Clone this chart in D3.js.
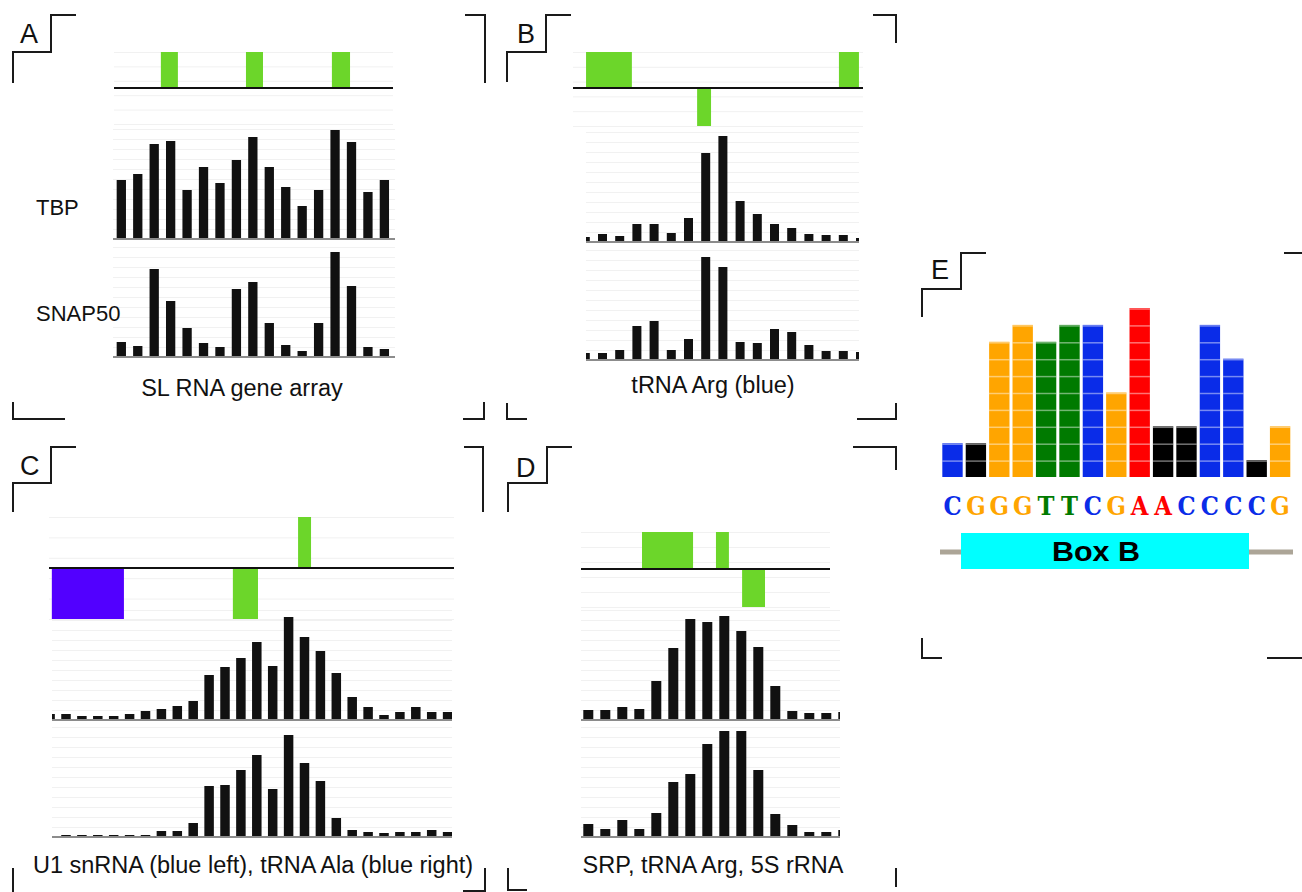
<!DOCTYPE html>
<html lang="en">
<head>
  <meta charset="UTF-8">
  <title>ChIP profiles</title>
  <style>
    html, body { margin: 0; padding: 0; background: #fff; }
    svg { display: block; font-family: "Liberation Sans", Arial, sans-serif; }
    .bracket { fill: none; stroke: #1a1a1a; stroke-width: 2; }
    .panelLabel { font-size: 27px; fill: #111; }
    .caption { font-size: 23.5px; fill: #111; text-anchor: middle; }
    .trackLabel { font-size: 22px; fill: #111; }
    .grid line { stroke: #f1f1f1; stroke-width: 1; }
    .grid path, .grid text { display: none; }
    .baseline { stroke: #8c8c8c; stroke-width: 2; }
    .geneLine { stroke: #111; stroke-width: 2; }
  </style>
  <script src="https://cdn.jsdelivr.net/npm/d3@7"></script>
</head>
<body>
<script>
  // ---------- data (bar heights, same units per track) ----------
  const tbpA = [59, 65, 95, 98, 49, 72, 56, 79, 102, 72, 52, 33, 49, 109, 97, 47, 59];
  const snap50A = [15, 11, 88, 56, 29, 14, 10, 68, 75, 34, 12, 6, 34, 105, 71, 10, 8];
  const tbpB = [5, 8, 6, 18, 18, 9, 24, 89, 106, 41, 28, 18, 14, 8, 7, 7, 4];
  const snap50B = [7, 7, 10, 34, 39, 10, 21, 103, 93, 18, 17, 31, 28, 15, 9, 9, 8];
  const tbpC = [6, 6, 4, 4, 4, 6, 9, 11, 14, 19, 45, 53, 62, 78, 54, 103, 83, 69, 47, 23, 13, 5, 8, 13, 8, 8];
  const snap50C = [1, 2, 2, 2, 2, 2, 2, 6, 6, 14, 51, 52, 67, 82, 48, 102, 74, 56, 19, 7, 5, 4, 5, 5, 7, 5];
  const tbpD = [10, 10, 13, 11, 39, 72, 101, 98, 104, 89, 73, 34, 9, 7, 7, 8];
  const snap50D = [13, 8, 17, 8, 24, 55, 63, 93, 106, 106, 67, 23, 12, 5, 5, 7];

  // gene features: start / end in relative position (0-100 along the locus), strand +1 / -1
  const genesA = [
    { start: 16.8, end: 22.9, strand: 1, type: 'gene' },
    { start: 47.3, end: 53.4, strand: 1, type: 'gene' },
    { start: 78.1, end: 84.6, strand: 1, type: 'gene' }
  ];
  const genesB = [
    { start: 4.5, end: 20.3, strand: 1, type: 'gene' },
    { start: 91.7, end: 98.6, strand: 1, type: 'gene' },
    { start: 42.8, end: 47.6, strand: -1, type: 'gene' }
  ];
  const genesC = [
    { start: 0.7, end: 18.5, strand: -1, type: 'U1' },
    { start: 45.4, end: 51.6, strand: -1, type: 'gene' },
    { start: 61.5, end: 64.7, strand: 1, type: 'gene' }
  ];
  const genesD = [
    { start: 24.5, end: 45.0, strand: 1, type: 'gene' },
    { start: 54.2, end: 59.4, strand: 1, type: 'gene' },
    { start: 64.7, end: 73.9, strand: -1, type: 'gene' }
  ];

  // sequence logo of box B
  const logoLetters = ['C', 'G', 'G', 'G', 'T', 'T', 'C', 'G', 'A', 'A', 'C', 'C', 'C', 'C', 'G'];
  const logoColumnBase = ['C', 'N', 'G', 'G', 'T', 'T', 'C', 'G', 'A', 'N', 'N', 'C', 'C', 'N', 'G'];
  const logoHeights = [2, 2, 8, 9, 8, 9, 9, 5, 10, 3, 3, 9, 7, 1, 3];

  const trackNames = ['TBP', 'SNAP50'];

  // ---------- layout ----------
  const width = 1302;
  const height = 892;
  const trackMax = 110;

  const baseColour = d3.scaleOrdinal()
    .domain(['C', 'G', 'T', 'A', 'N'])
    .range(['#0a2ce8', '#ffa500', '#007a00', '#ff0000', '#000000']);
  const featureColour = d3.scaleOrdinal()
    .domain(['gene', 'U1'])
    .range(['#6cd62a', '#5200ff']);

  const panels = [
    {
      id: 'A', label: [20, 43], caption: 'SL RNA gene array', capPos: [242, 396],
      gene: { x0: 114, x1: 393, y: 88, up: 36, down: 36, data: genesA },
      bars: { range: [113.1, 392.6], clip: [113, 395], bw: 9.3 },
      tracks: [{ base: 239, data: tbpA }, { base: 357, data: snap50A }],
      names: true,
      brackets: ['M13,83V52H51V15H76', 'M465,15H485V83', 'M13,402V419H65', 'M463,419H484V402']
    },
    {
      id: 'B', label: [517, 43], caption: 'tRNA Arg (blue)', capPos: [713, 393],
      gene: { x0: 573, x1: 863, y: 88, up: 36, down: 38, data: genesB },
      bars: { range: [576.7, 869.1], clip: [586, 859], bw: 9 },
      tracks: [{ base: 242, data: tbpB }, { base: 360, data: snap50B }],
      brackets: ['M507,82V52H546V15H571', 'M873,15H896V43', 'M507,403V419H527', 'M857,419H896V403']
    },
    {
      id: 'C', label: [20, 475], caption: 'U1 snRNA (blue left), tRNA Ala (blue right)', capPos: [253, 873],
      gene: { x0: 49, x1: 454, y: 568, up: 51, down: 51, data: genesC },
      bars: { range: [42.15, 455.55], clip: [52, 452], bw: 9.5 },
      tracks: [{ base: 720, data: tbpC }, { base: 837, data: snap50C }],
      brackets: ['M13,512V483H51V447H76', 'M464,447H483V512', 'M13,868V892', 'M463,891H485V868']
    },
    {
      id: 'D', label: [516, 477], caption: 'SRP, tRNA Arg, 5S rRNA', capPos: [713, 873],
      gene: { x0: 581, x1: 830, y: 569, up: 37, down: 38, data: genesD },
      bars: { range: [579.8, 851.8], clip: [581, 840], bw: 10 },
      tracks: [{ base: 720, data: tbpD }, { base: 837, data: snap50D }],
      brackets: ['M508,512V483H547V447H572', 'M853,447H896V470', 'M508,868V890H527', 'M896,868V887']
    }
  ];

  const svg = d3.select('body').append('svg')
    .attr('width', width)
    .attr('height', height);
  const defs = svg.append('defs');
  const gridLayer = svg.append('g').attr('class', 'gridLayer');

  panels.forEach((p) => {
    const g = svg.append('g').attr('class', 'panel-' + p.id);

    // corner brackets
    g.selectAll('.bracket')
      .data(p.brackets)
      .enter()
      .append('path')
      .attr('class', 'bracket')
      .attr('d', (d) => d);

    g.append('text')
      .attr('class', 'panelLabel')
      .attr('x', p.label[0])
      .attr('y', p.label[1])
      .text(p.id);

    // gene track
    const gx = d3.scaleLinear().domain([0, 100]).range([p.gene.x0, p.gene.x1]);
    gridLayer.append('g')
      .attr('class', 'grid')
      .attr('transform', `translate(${p.gene.x0},0)`)
      .call(d3.axisLeft(d3.scaleLinear().domain([0, 1]).range([p.gene.y + p.gene.down, p.gene.y - p.gene.up]))
        .ticks(4).tickSize(-(p.gene.x1 - p.gene.x0)));

    g.selectAll('.feature')
      .data(p.gene.data)
      .enter()
      .append('rect')
      .attr('class', 'feature')
      .attr('x', (d) => gx(d.start))
      .attr('width', (d) => gx(d.end) - gx(d.start))
      .attr('y', (d) => d.strand > 0 ? p.gene.y - p.gene.up : p.gene.y)
      .attr('height', (d) => d.strand > 0 ? p.gene.up : p.gene.down)
      .attr('fill', (d) => featureColour(d.type));

    g.append('line')
      .attr('class', 'geneLine')
      .attr('x1', p.gene.x0)
      .attr('x2', p.gene.x1)
      .attr('y1', p.gene.y)
      .attr('y2', p.gene.y);

    // ChIP bar tracks
    const n = p.tracks[0].data.length;
    const step = (p.bars.range[1] - p.bars.range[0]) / n;
    const pad = 1 - p.bars.bw / step;
    const xScale = d3.scaleBand()
      .domain(d3.range(n))
      .range(p.bars.range)
      .paddingInner(pad)
      .paddingOuter(pad / 2);

    const clipId = 'clip' + p.id;
    defs.append('clipPath')
      .attr('id', clipId)
      .append('rect')
      .attr('x', p.bars.clip[0])
      .attr('y', 0)
      .attr('width', p.bars.clip[1] - p.bars.clip[0])
      .attr('height', height);

    p.tracks.forEach((t, ti) => {
      const yScale = d3.scaleLinear().domain([0, trackMax]).range([t.base, t.base - trackMax]);

      gridLayer.append('g')
        .attr('class', 'grid')
        .attr('transform', `translate(${p.bars.clip[0]},0)`)
        .call(d3.axisLeft(yScale).ticks(8).tickSize(-(p.bars.clip[1] - p.bars.clip[0])));

      g.append('g')
        .attr('clip-path', `url(#${clipId})`)
        .selectAll('rect')
        .data(t.data)
        .enter()
        .append('rect')
        .attr('x', (d, i) => xScale(i))
        .attr('width', xScale.bandwidth())
        .attr('y', (d) => yScale(d))
        .attr('height', (d) => yScale(0) - yScale(d))
        .attr('fill', '#111');

      g.append('line')
        .attr('class', 'baseline')
        .attr('x1', p.bars.clip[0])
        .attr('x2', p.bars.clip[1])
        .attr('y1', t.base)
        .attr('y2', t.base);

      if (p.names) {
        g.append('text')
          .attr('class', 'trackLabel')
          .attr('x', 36)
          .attr('y', t.base - (ti === 0 ? 24 : 36))
          .text(trackNames[ti]);
      }
    });

    g.append('text')
      .attr('class', 'caption')
      .attr('x', p.capPos[0])
      .attr('y', p.capPos[1])
      .text(p.caption);
  });

  // ---------- panel E: box B logo ----------
  const e = svg.append('g').attr('class', 'panel-E');
  e.selectAll('.bracket')
    .data(['M922,317V289H961V253H986', 'M1284,253H1302', 'M922,638V658H942', 'M1267,658H1302'])
    .enter()
    .append('path')
    .attr('class', 'bracket')
    .attr('d', (d) => d);
  e.append('text')
    .attr('class', 'panelLabel')
    .attr('x', 931)
    .attr('y', 279)
    .text('E');

  const logoX = d3.scaleBand()
    .domain(d3.range(logoLetters.length))
    .range([940.8, 1291.8])
    .paddingInner(0.13)
    .paddingOuter(0.065);
  const logoY = d3.scaleLinear().domain([0, 10]).range([477, 308]);

  const cols = e.selectAll('.logoCol')
    .data(logoHeights)
    .enter()
    .append('g')
    .attr('class', 'logoCol');

  cols.append('rect')
    .attr('x', (d, i) => logoX(i))
    .attr('width', logoX.bandwidth())
    .attr('y', (d) => logoY(d))
    .attr('height', (d) => logoY(0) - logoY(d))
    .attr('fill', (d, i) => baseColour(logoColumnBase[i]));

  // light stripes between the stacked units
  cols.selectAll('line')
    .data((d, i) => d3.range(1, d + 1).map((k) => ({ k, i })))
    .enter()
    .append('line')
    .attr('x1', (d) => logoX(d.i))
    .attr('x2', (d) => logoX(d.i) + logoX.bandwidth())
    .attr('y1', (d) => logoY(d.k) + 1)
    .attr('y2', (d) => logoY(d.k) + 1)
    .attr('stroke', '#fff')
    .attr('stroke-opacity', 0.45)
    .attr('stroke-width', 1.5);

  e.selectAll('.logoLetter')
    .data(logoLetters)
    .enter()
    .append('text')
    .attr('class', 'logoLetter')
    .attr('text-anchor', 'middle')
    .attr('transform', (d, i) => `translate(${logoX(i) + logoX.bandwidth() / 2},515) scale(0.95,1.1)`)
    .attr('font-family', '"DejaVu Serif", serif')
    .attr('font-weight', 'bold')
    .attr('font-size', 24)
    .attr('fill', (d) => baseColour(d))
    .text((d) => d);

  e.append('line')
    .attr('x1', 940)
    .attr('x2', 1293)
    .attr('y1', 552)
    .attr('y2', 552)
    .attr('stroke', '#aca597')
    .attr('stroke-width', 5);
  e.append('rect')
    .attr('x', 961)
    .attr('y', 533)
    .attr('width', 288)
    .attr('height', 36)
    .attr('fill', '#00ffff');
  e.append('text')
    .attr('x', 1096)
    .attr('y', 561)
    .attr('text-anchor', 'middle')
    .attr('font-weight', 'bold')
    .attr('font-size', 28)
    .attr('textLength', 88)
    .attr('lengthAdjust', 'spacingAndGlyphs')
    .attr('fill', '#000')
    .text('Box B');
</script>
</body>
</html>
